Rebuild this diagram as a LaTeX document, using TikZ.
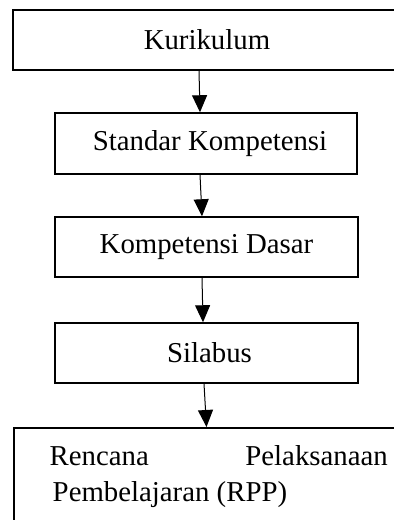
\documentclass[tikz,border=0pt]{standalone}
\usepackage{fontspec}
\setmainfont{Liberation Serif}
\usetikzlibrary{arrows.meta}
\tikzset{>={Triangle[length=8.5pt, width=7.5pt]}}
\tikzset{box/.style={draw, line width=.75pt, rectangle, inner sep=0pt, font=\fontsize{14.4}{14}\selectfont}}

\begin{document}
\begin{tikzpicture}[x=.5pt, y=-.5pt]
    \useasboundingbox(0, 0)rectangle(394, 520);
    \node[box, minimum width=194pt, minimum height=30pt](kur) at(207, 40){Kurikulum};
    \node[box, minimum width=151pt, minimum height=30.5pt](sk) at(206, 143.5){\hspace{4pt}Standar Kompetensi};
    \node[box, minimum width=151.5pt, minimum height=30pt](kd) at(206.5, 247){Kompetensi Dasar\hspace{8pt}};
    \node[box, minimum width=151.5pt, minimum height=30pt](sil) at(206.5, 353){\hspace{3pt}Silabus};
    \node[box, anchor=north west, text width=169pt, align=justify, inner xsep=18pt, inner ysep=9pt, text depth=30pt](rpp) at(13, 427){Rencana\hfill Pelaksanaan\\[4pt]\hspace*{1.5pt}Pembelajaran (RPP)};
    \draw[->, line width=.5pt]([xshift=-4pt]kur.south)--([xshift=-3pt]sk.north);
    \draw[->, line width=.5pt]([xshift=-3pt]sk.south)--([xshift=-2.25pt]kd.north);
    \draw[->, line width=.5pt]([xshift=-2.25pt]kd.south)--([xshift=-1.75pt]sil.north);
    \draw[->, line width=.5pt]([xshift=-1.25pt]sil.south)--(sil.south |- rpp.north);
\end{tikzpicture}
\end{document}
